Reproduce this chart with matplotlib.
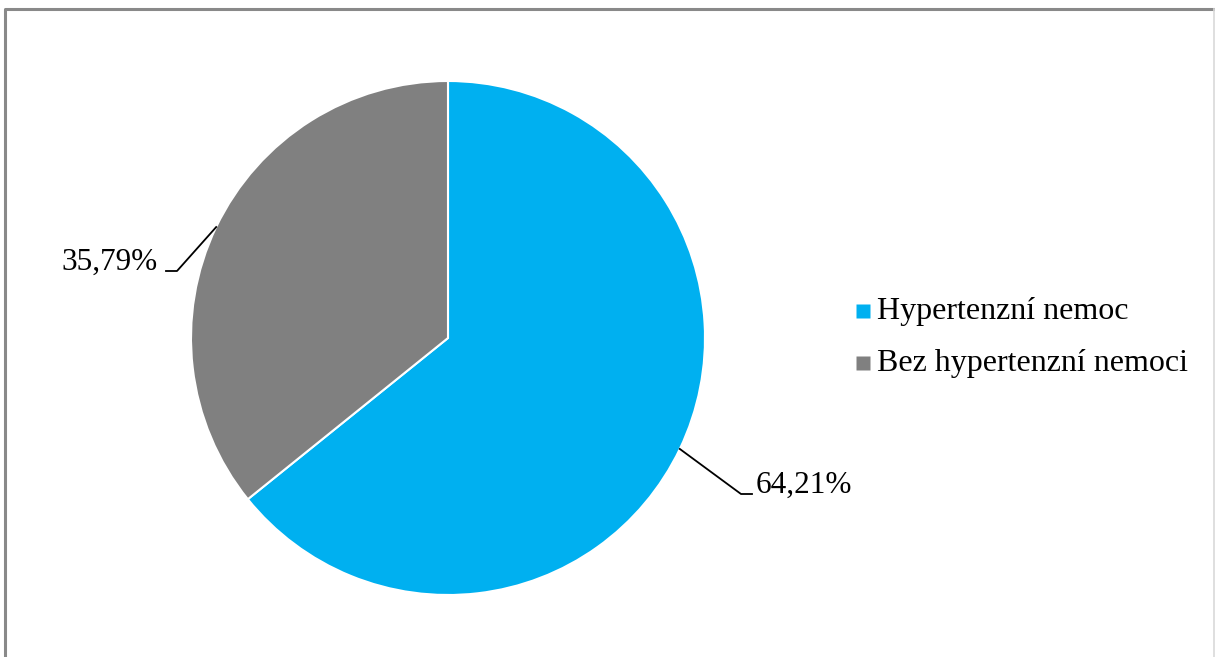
import numpy as np
import matplotlib
matplotlib.use('Agg')
import matplotlib.pyplot as plt

categories = ['Hypertenzní nemoc', 'Bez hypertenzní nemoci']
shares = [64.21, 35.79]
labels = ['64,21%', '35,79%']
colors = ['#00B0F0', '#808080']

W, H = 1215, 657
plt.rcParams['font.family'] = ['Liberation Serif', 'DejaVu Serif']

fig = plt.figure(figsize=(W / 100, H / 100), dpi=100)
ax = fig.add_axes([0, 0, 1, 1])

cx, cy, r = 448, H - 338, 257
wedges, _ = ax.pie(shares, colors=colors, startangle=90, counterclock=False,
                   center=(cx, cy), radius=r, frame=True,
                   wedgeprops=dict(edgecolor='white', linewidth=1.5))
ax.set_xlim(0, W)
ax.set_ylim(0, H)
ax.set_aspect('equal')
ax.axis('off')

# leader lines + labels
for w, lab in zip(wedges, labels):
    ang = np.deg2rad((w.theta1 + w.theta2) / 2)
    ex, ey = cx + r * np.cos(ang), cy + r * np.sin(ang)
    if np.cos(ang) > 0:
        kx, ky = 741, H - 494
        ax.plot([ex, kx, kx + 11], [ey, ky, ky], color='black', lw=1.3)
        ax.text(kx + 15, ky + 9, lab, fontsize=22.5, ha='left', va='center')
    else:
        kx, ky = 177, H - 271
        ax.plot([ex, kx, kx - 11], [ey, ky, ky], color='black', lw=1.3)
        ax.text(kx - 19, ky + 9, lab, fontsize=22.5, ha='right', va='center')

# legend
for i, (cat, c) in enumerate(zip(categories, colors)):
    y = H - 311 - 52 * i
    ax.plot([862.5], [y], marker='s', ms=9.5, color=c, mec='none')
    ax.text(877, y, cat, fontsize=23, ha='left', va='center')

# outer border
ax.plot([4.5, 4.5, 1213.5], [0, H - 8.5, H - 8.5], color='#898989', lw=2.2,
        solid_capstyle='projecting')
ax.plot([1213.5, 1213.5], [H - 8.5, 0], color='#d9d9d9', lw=1.2)

fig.savefig('out.png', dpi=100)
